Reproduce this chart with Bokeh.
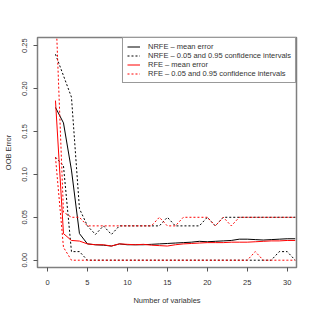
from bokeh.plotting import figure
from bokeh.models import Range1d, Legend, LegendItem, FixedTicker, PrintfTickFormatter
from bokeh.embed import file_html
from bokeh.resources import INLINE

# ---- data ----
n_vars = list(range(1, 32))

nrfe_mean = [0.178, 0.160, 0.105, 0.031, 0.019, 0.018, 0.0175, 0.0165, 0.019, 0.018,
             0.018, 0.018, 0.0185, 0.019, 0.0195, 0.020, 0.0205, 0.021, 0.022, 0.0215,
             0.022, 0.0225, 0.023, 0.0245, 0.0245, 0.024, 0.0235, 0.024, 0.0245, 0.025, 0.025]
nrfe_hi = [0.24, 0.215, 0.19, 0.06, 0.04, 0.03, 0.04, 0.03, 0.04, 0.04,
           0.04, 0.04, 0.04, 0.04, 0.05, 0.04, 0.04, 0.04, 0.04, 0.05,
           0.04, 0.05, 0.05, 0.05, 0.05, 0.05, 0.05, 0.05, 0.05, 0.05, 0.05]
nrfe_lo = [0.12, 0.11, 0.01, 0.01, 0.0, 0.0, 0.0, 0.0, 0.0, 0.0,
           0.0, 0.0, 0.0, 0.0, 0.0, 0.0, 0.0, 0.0, 0.0, 0.0,
           0.0, 0.0, 0.0, 0.0, 0.0, 0.0, 0.0, 0.0, 0.01, 0.01, 0.0]

rfe_mean = [0.186, 0.031, 0.023, 0.0223, 0.019, 0.018, 0.018, 0.0165, 0.019, 0.0185,
            0.018, 0.0185, 0.0175, 0.017, 0.0165, 0.018, 0.019, 0.0195, 0.020, 0.0205,
            0.0205, 0.0205, 0.021, 0.021, 0.021, 0.0215, 0.022, 0.0225, 0.0225, 0.023, 0.023]
rfe_hi = [0.30, 0.056, 0.05, 0.05, 0.04, 0.04, 0.04, 0.04, 0.04, 0.04,
          0.04, 0.04, 0.04, 0.05, 0.04, 0.04, 0.05, 0.05, 0.05, 0.05,
          0.04, 0.05, 0.04, 0.05, 0.05, 0.05, 0.05, 0.05, 0.05, 0.05, 0.05]
rfe_lo = [0.12, 0.015, 0.0, 0.0, 0.0, 0.0, 0.0, 0.0, 0.0, 0.0,
          0.0, 0.0, 0.0, 0.0, 0.0, 0.0, 0.0, 0.0, 0.0, 0.0,
          0.0, 0.0, 0.0, 0.0, 0.0, 0.01, 0.0, 0.0, 0.0, 0.0, 0.0]

x_ticks = [0, 5, 10, 15, 20, 25, 30]
y_ticks = [0.0, 0.05, 0.10, 0.15, 0.20, 0.25]

legend_labels = ["NRFE \u2013 mean error",
                 "NRFE \u2013 0.05 and 0.95 confidence intervals",
                 "RFE \u2013 mean error",
                 "RFE \u2013 0.05 and 0.95 confidence intervals"]

FONT = "Liberation Sans"
FS = "7.5px"
TXT = "#333333"

p = figure(width=315, height=315, output_backend="svg", toolbar_location=None,
           x_range=Range1d(-1.25, 31.16), y_range=Range1d(-0.0085, 0.2595),
           min_border_left=37, min_border_right=19, min_border_top=37, min_border_bottom=48,
           background_fill_color="white", border_fill_color="white")

p.outline_line_color = "#7f7f7f"
p.outline_line_width = 1.5
p.xgrid.visible = False
p.ygrid.visible = False

p.xaxis.ticker = FixedTicker(ticks=x_ticks)
p.yaxis.ticker = FixedTicker(ticks=y_ticks)
p.yaxis.formatter = PrintfTickFormatter(format="%.2f")
p.yaxis.major_label_orientation = "vertical"

for ax in (p.xaxis[0], p.yaxis[0]):
    ax.axis_line_color = None
    ax.minor_tick_line_color = None
    ax.major_tick_in = 0
    ax.major_tick_out = 4
    ax.major_tick_line_color = "#555555"
    ax.major_label_text_font = FONT
    ax.major_label_text_font_size = FS
    ax.major_label_text_color = TXT
    ax.axis_label_text_font = FONT
    ax.axis_label_text_font_size = FS
    ax.axis_label_text_font_style = "normal"
    ax.axis_label_text_color = TXT

p.xaxis.axis_label = "Number of variables"
p.yaxis.axis_label = "OOB Error"
p.xaxis.major_label_standoff = 8
p.xaxis.axis_label_standoff = 8
p.yaxis.major_label_standoff = 6
p.yaxis.axis_label_standoff = 7

r1 = p.line(n_vars, nrfe_mean, line_color="black", line_width=1)
r2 = p.line(n_vars, nrfe_hi, line_color="black", line_width=1, line_dash="2 2")
p.line(n_vars, nrfe_lo, line_color="black", line_width=1, line_dash="2 2")
r3 = p.line(n_vars, rfe_mean, line_color="red", line_width=1)
r4 = p.line(n_vars, rfe_hi, line_color="red", line_width=1, line_dash="2 2")
p.line(n_vars, rfe_lo, line_color="red", line_width=1, line_dash="2 2")

legend = Legend(items=[LegendItem(label=legend_labels[0], renderers=[r1]),
                       LegendItem(label=legend_labels[1], renderers=[r2]),
                       LegendItem(label=legend_labels[2], renderers=[r3]),
                       LegendItem(label=legend_labels[3], renderers=[r4])],
                location="top_right", margin=0, padding=4, spacing=0,
                label_height=9, glyph_height=9, glyph_width=13, label_standoff=8,
                label_text_font=FONT, label_text_font_size=FS, label_text_color=TXT,
                border_line_color="#333333", border_line_width=1,
                background_fill_color="white", background_fill_alpha=1.0)
p.add_layout(legend)

open("out.html", "w").write(file_html(p, INLINE))
